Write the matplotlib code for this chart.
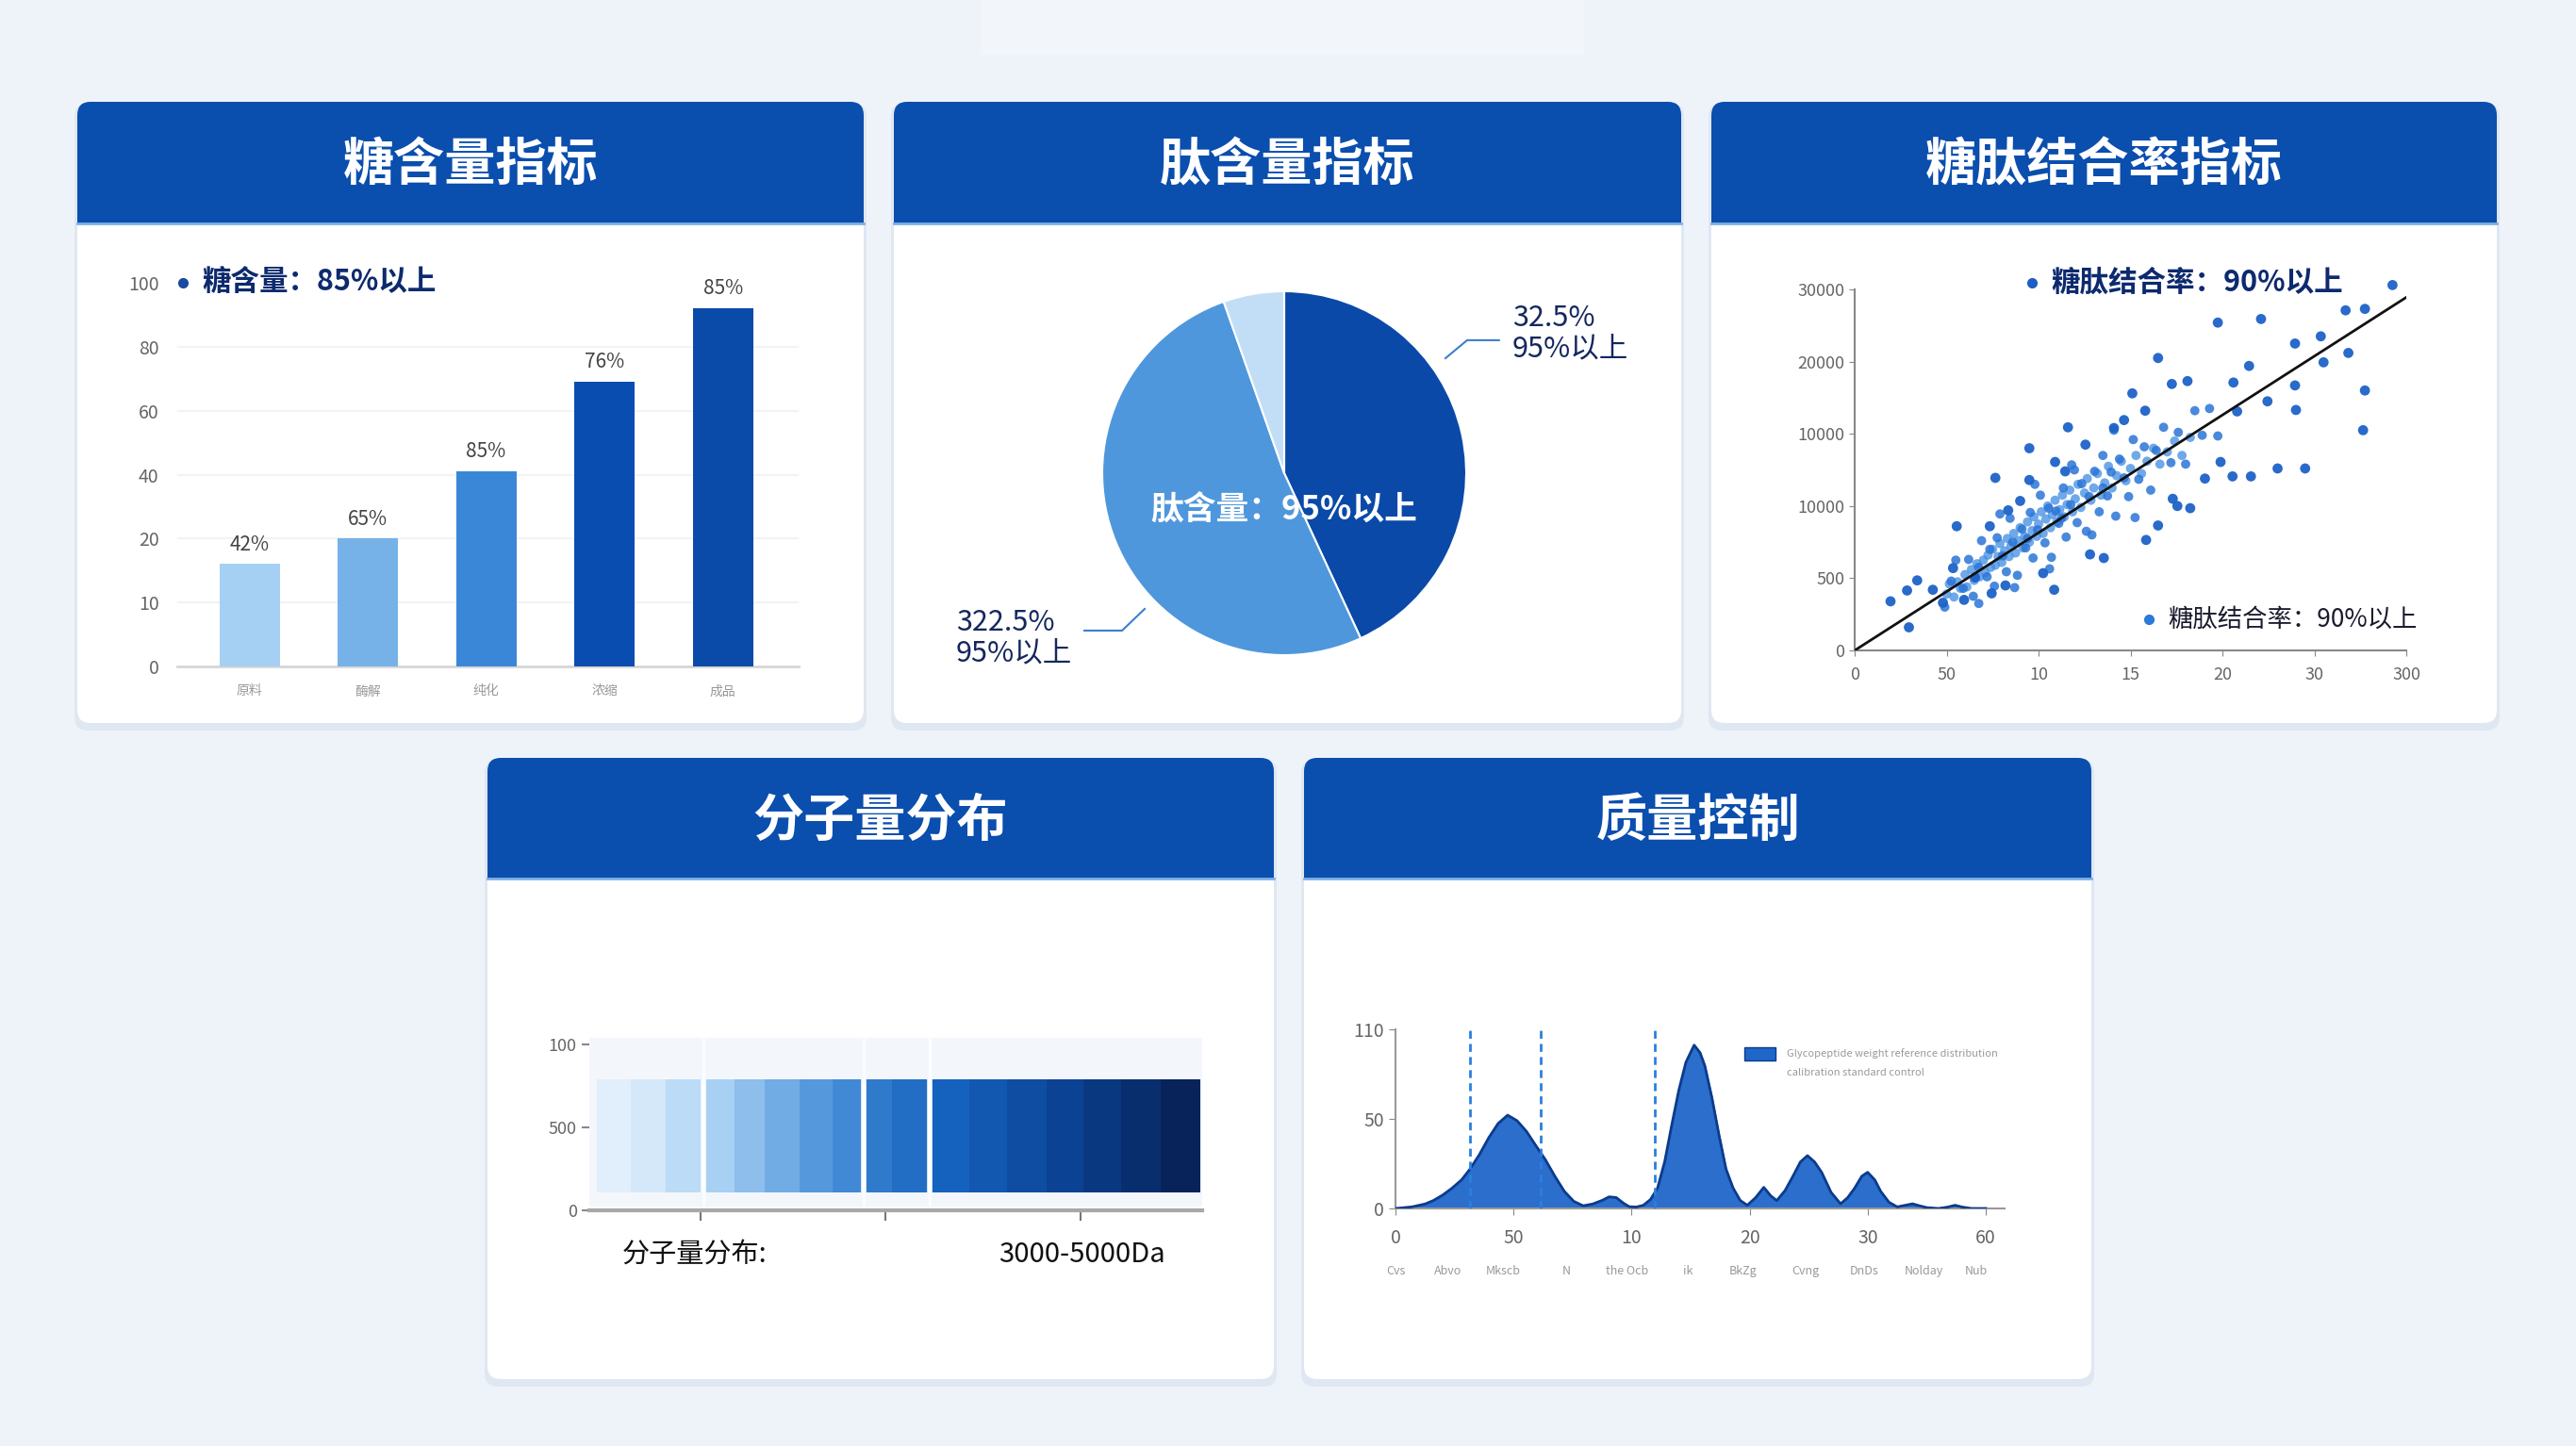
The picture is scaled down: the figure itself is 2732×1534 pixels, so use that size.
import numpy as np
import matplotlib
matplotlib.use("Agg")
import matplotlib.pyplot as plt
from matplotlib.patches import FancyBboxPatch, Rectangle
from matplotlib.colors import LinearSegmentedColormap
from matplotlib.transforms import blended_transform_factory

plt.rcParams['font.family'] = ['Noto Sans CJK SC', 'DejaVu Sans']

W, H = 2732, 1534

# ---- data: 糖含量指标 ----
sugar_cats = ['原料', '酶解', '纯化', '浓缩', '成品']
sugar_vals = [16, 20, 41, 69, 92]
sugar_text = ['42%', '65%', '85%', '76%', '85%']
sugar_ticks = [0, 10, 20, 40, 60, 80, 100]

# ---- data: 肽含量指标 ----
pep_vals = [43.1, 51.5, 5.4]

# ---- data: 糖肽结合率 ----
sc_xlabels = ['0', '50', '10', '15', '20', '30', '300']
sc_ylabels = ['0', '500', '10000', '10000', '20000', '30000']
big_x = [0.39, 0.57, 0.68, 0.59, 0.85, 0.96, 1.11, 1.07, 1.19, 1.31, 1.47, 1.49, 1.53, 1.64, 1.67,
         1.80, 1.90, 1.90, 2.05, 2.17, 2.18, 2.32, 2.29, 2.51, 2.56, 2.71, 2.82, 2.93, 3.02, 3.16,
         3.17, 3.30, 3.30, 3.45, 3.62, 3.46, 3.51, 3.65, 3.81, 3.95, 4.12, 4.11, 4.29, 4.31, 4.42,
         4.49, 4.60, 4.79, 4.79, 4.80, 4.90, 5.07, 5.10, 5.37, 5.53, 5.55, 5.85, 5.34, 5.55, 4.16, 3.98]
big_y = [0.68, 0.83, 0.97, 0.32, 0.84, 0.66, 1.72, 1.14, 0.70, 1.01, 1.72, 0.79, 2.39, 0.90, 1.94,
         2.07, 2.80, 2.36, 1.07, 0.84, 2.61, 3.09, 2.48, 2.85, 1.33, 1.28, 3.08, 3.19, 3.56, 3.32,
         1.53, 1.73, 4.05, 3.69, 3.73, 2.10, 2.00, 1.97, 2.38, 4.54, 3.71, 2.41, 3.94, 2.41, 4.59,
         3.45, 2.52, 4.25, 3.67, 3.33, 2.52, 4.35, 3.99, 4.12, 3.05, 3.60, 5.06, 4.71, 4.73, 3.31, 2.61]
cloud_x = [1.00, 1.03, 1.08, 1.12, 1.15, 1.20, 1.22, 1.27, 1.30, 1.33, 1.36, 1.40, 1.42, 1.45, 1.48,
           1.50, 1.53, 1.56, 1.58, 1.60, 1.63, 1.66, 1.68, 1.70, 1.73, 1.75, 1.78, 1.80, 1.83, 1.85,
           1.88, 1.90, 1.93, 1.95, 1.98, 2.00, 2.03, 2.05, 2.08, 2.10, 2.13, 2.15, 2.18, 2.20, 2.23,
           2.26, 2.28, 2.31, 2.34, 2.37, 2.40, 2.43, 2.46, 2.50, 2.53, 2.57, 2.60, 2.64, 2.68, 2.72,
           2.76, 2.80, 2.85, 2.90, 2.95, 3.00, 3.06, 3.12, 3.18, 3.25, 3.32, 3.40, 3.48, 3.56, 3.65]
cloud_y = [0.78, 0.92, 0.74, 0.95, 0.86, 1.05, 0.88, 1.12, 0.97, 1.20, 1.02, 1.25, 1.08, 1.32, 1.15,
           1.40, 1.18, 1.30, 1.48, 1.22, 1.38, 1.55, 1.30, 1.45, 1.62, 1.35, 1.52, 1.70, 1.42, 1.58,
           1.78, 1.50, 1.66, 1.85, 1.58, 1.75, 1.92, 1.62, 1.82, 2.00, 1.70, 1.88, 2.08, 1.78, 1.95,
           2.15, 1.85, 2.02, 2.22, 1.92, 2.10, 2.30, 1.98, 2.18, 2.38, 2.08, 2.25, 2.45, 2.15, 2.32,
           2.55, 2.25, 2.42, 2.62, 2.35, 2.52, 2.70, 2.45, 2.62, 2.80, 2.58, 2.75, 2.90, 2.70, 2.95]
spread_x = [0.98, 1.05, 1.10, 1.18, 1.24, 1.29, 1.35, 1.38, 1.44, 1.47, 1.52, 1.55, 1.61, 1.65,
            1.69, 1.72, 1.77, 1.82, 1.86, 1.91, 1.94, 1.99, 2.02, 2.07, 2.11, 2.14, 2.19, 2.22,
            2.27, 2.30, 2.35, 2.39, 2.42, 2.47, 2.52, 2.55, 2.61, 2.66, 2.70, 2.75, 2.79, 2.84,
            2.88, 2.93, 2.98, 3.03, 3.09, 3.15, 3.22, 3.28, 3.36, 3.44, 3.52, 3.60, 3.70, 3.78,
            3.86, 3.95, 1.58, 1.74, 1.96, 2.12, 2.36, 2.58, 2.82, 3.05, 1.35, 1.88, 2.25, 2.70]
spread_y = [0.60, 0.96, 1.25, 0.86, 1.26, 0.75, 1.15, 1.52, 1.02, 1.40, 0.89, 1.56, 1.31, 1.09,
            1.83, 1.50, 1.04, 1.68, 1.42, 1.91, 1.28, 1.67, 2.15, 1.49, 1.97, 1.29, 1.93, 1.76,
            2.25, 1.57, 2.02, 2.50, 1.77, 2.31, 1.65, 2.13, 2.48, 1.92, 2.70, 2.14, 2.47, 1.86,
            2.65, 2.39, 2.13, 2.92, 2.37, 2.82, 2.22, 2.77, 3.09, 2.60, 3.02, 2.58, 3.32, 2.98,
            3.35, 2.97, 1.89, 0.87, 2.30, 1.13, 2.57, 1.60, 3.05, 1.84, 0.65, 1.55, 1.83, 2.25]
fit_x = [0, 6]
fit_y = [0, 4.89]

# ---- data: 分子量分布 ----
mw_edges = [0, 5.7, 11.4, 17.3, 22.8, 27.9, 33.6, 39.1, 44.2, 48.9, 55.1, 61.8, 68.0, 74.5, 80.7,
            86.8, 93.4, 100]
mw_level = [0.02, 0.06, 0.14, 0.20, 0.26, 0.32, 0.38, 0.44, 0.50, 0.55, 0.60, 0.66, 0.72, 0.78,
            0.85, 0.92, 1.0]
mw_breaks = [17.7, 44.2, 55.1]
mw_ticks = [17.3, 47.8, 80.2]
mw_ylabels = ['0', '500', '100']

# ---- data: 质量控制 ----
qc_x = [0, 0.14, 0.25, 0.32, 0.40, 0.48, 0.56, 0.63, 0.71, 0.79,
        0.87, 0.95, 1.03, 1.11, 1.19, 1.27, 1.35, 1.43, 1.51, 1.59,
        1.67, 1.75, 1.81, 1.87, 1.93, 1.98, 2.04, 2.10, 2.16, 2.22,
        2.28, 2.34, 2.40, 2.46, 2.53, 2.58, 2.62, 2.68, 2.74, 2.80,
        2.86, 2.92, 2.98, 3.05, 3.12, 3.18, 3.23, 3.30, 3.37, 3.43,
        3.49, 3.55, 3.61, 3.69, 3.77, 3.83, 3.89, 3.95, 4.00, 4.06,
        4.11, 4.18, 4.25, 4.32, 4.38, 4.44, 4.50, 4.60, 4.68, 4.74,
        4.80, 4.88, 5.0]
qc_y = [0, 0.9, 2.5, 4.4, 7.5, 11.4, 16, 21.9, 30, 39.5,
        47.5, 52.1, 49, 43, 35, 27.2, 18, 9.6, 4, 1.5,
        2.5, 4.5, 6.5, 6.1, 3, 1, 0.8, 1.8, 5, 11.4,
        26, 46.5, 66, 81.6, 91.2, 87, 79.8, 62, 41.2, 22,
        11.4, 4.5, 1.8, 6, 11.8, 7, 4.4, 10, 18.4, 26,
        29.5, 26, 20.2, 9, 2.6, 6, 11.4, 18, 20.2, 16,
        9.6, 3.5, 0.9, 1.8, 2.6, 1.5, 0.5, 0, 0.8, 1.8,
        0.8, 0, 0]
qc_marks = [0.63, 1.23, 2.20]
qc_xlabels = ['0', '50', '10', '20', '30', '60']
qc_ylabels = ['0', '50', '110']
qc_cats = ['Cvs', 'Abvo', 'Mkscb', 'N', 'the Ocb', 'ik', 'BkZg', 'Cvng', 'DnDs', 'Nolday', 'Nub']
qc_cat_pos = [0, 0.44, 0.91, 1.45, 1.96, 2.48, 2.94, 3.47, 3.97, 4.48, 4.92]

BLUE = '#0a4eae'
NAVY = '#0d2a6e'
GREY = '#666666'

fig = plt.figure(figsize=(W / 100, H / 100), dpi=100)
fig.patch.set_facecolor('#eef3f9')
bg = fig.add_axes([0, 0, 1, 1], zorder=0)
bg.set_xlim(0, W)
bg.set_ylim(H, 0)
bg.axis('off')
bg.set_facecolor('#eef3f9')
bg.add_patch(Rectangle((1040, 0), 640, 58, fc='#f2f6fb', ec='none', zorder=0))


def panel(x0, y0, x1, y1, hb, title):
    r = 14
    box = "round,pad=0,rounding_size=%d" % r
    bg.add_patch(FancyBboxPatch((x0 - 3, y0 + 2), x1 - x0 + 6, y1 - y0 + 6, boxstyle=box,
                                fc='#d5e0ee', ec='none', alpha=0.6, zorder=1))
    bg.add_patch(FancyBboxPatch((x0, y0), x1 - x0, y1 - y0, boxstyle=box,
                                fc='white', ec='none', zorder=2))
    bg.add_patch(FancyBboxPatch((x0, y0), x1 - x0, hb - y0, boxstyle=box,
                                fc=BLUE, ec='none', zorder=3))
    bg.add_patch(Rectangle((x0, hb - 2 * r), x1 - x0, 2 * r, fc=BLUE, ec='none', zorder=3))
    bg.plot([x0, x1], [hb, hb], color='#7fb0e8', lw=2, zorder=4)
    bg.text((x0 + x1) / 2, (y0 + hb) / 2 + 3, title, color='white', fontsize=39,
            fontweight='bold', ha='center', va='center', zorder=5)


def add_ax(x0, y0, x1, y1):
    a = fig.add_axes([x0 / W, 1 - y1 / H, (x1 - x0) / W, (y1 - y0) / H], zorder=2)
    a.set_facecolor('none')
    return a


def bullet(x, y, s, dot_color, size, **kw):
    bg.plot([x], [y], marker='o', markersize=7, color=dot_color, zorder=5)
    bg.text(x + 20, y, s, fontsize=size, ha='left', va='center', zorder=5, **kw)


panel(82, 108, 916, 767, 237, '糖含量指标')
panel(948, 108, 1783, 767, 237, '肽含量指标')
panel(1815, 108, 2648, 767, 237, '糖肽结合率指标')
panel(517, 804, 1351, 1463, 932, '分子量分布')
panel(1383, 804, 2218, 1463, 932, '质量控制')

# ---------- 糖含量指标 bar chart ----------
ax = add_ax(188, 300, 847, 707)
pos = np.arange(len(sugar_ticks))
ax.set_yscale('function', functions=(lambda v: np.interp(v, sugar_ticks, pos),
                                     lambda p: np.interp(p, pos, sugar_ticks)))
bar_colors = ['#a5d0f4', '#76b2e8', '#3a87d8', '#0a4db0', '#0a4aa8']
xb = np.arange(len(sugar_vals))
ax.bar(xb, sugar_vals, width=0.51, color=bar_colors, zorder=3)
for xi, v, t in zip(xb, sugar_vals, sugar_text):
    ax.annotate(t, (xi, v), xytext=(0, 7), textcoords='offset points', ha='center',
                va='bottom', fontsize=15, color='#444444')
ax.set_ylim(0, 100)
ax.set_xlim(-0.61, 4.64)
ax.set_yticks(sugar_ticks)
ax.set_yticklabels([str(t) for t in sugar_ticks])
ax.set_xticks(xb)
ax.set_xticklabels(sugar_cats, fontsize=10, color='#999999')
ax.tick_params(axis='y', length=0, pad=14, labelsize=14, labelcolor=GREY)
ax.tick_params(axis='x', length=0, pad=14)
for gv in sugar_ticks[1:-1]:
    ax.axhline(gv, color='#f1f3f6', lw=1.5, zorder=1)
for s in ['left', 'right', 'top']:
    ax.spines[s].set_visible(False)
ax.spines['bottom'].set_color('#d6d6d6')
ax.spines['bottom'].set_linewidth(2)
bullet(194, 300, '糖含量：85%以上', '#1a4aa0', 22, fontweight='bold', color=NAVY)

# ---------- 肽含量指标 pie ----------
ax = add_ax(1362 - 193, 502 - 193, 1362 + 193, 502 + 193)
ax.pie(pep_vals, startangle=90, counterclock=False,
       colors=['#0a49a8', '#4f97dc', '#c2def6'],
       wedgeprops=dict(edgecolor='white', linewidth=1.5))
ax.set_xlim(-1, 1)
ax.set_ylim(-1, 1)
ax.set_aspect('equal')
ax.text(0, -0.2, '肽含量：95%以上', color='white', fontsize=25, fontweight='bold',
        ha='center', va='center')
ax.plot([0.886, 1.005, 1.18], [0.632, 0.731, 0.731], color='#3a7fd0', lw=1.5, clip_on=False)
ax.text(1.254, 0.77, '32.5%\n95%以上', color='#14285e', fontsize=22, ha='left',
        va='center', linespacing=1.05)
ax.plot([-0.767, -0.891, -1.098], [-0.746, -0.865, -0.865], color='#3a7fd0', lw=1.5,
        clip_on=False)
ax.text(-1.803, -0.905, '322.5%\n95%以上', color='#14285e', fontsize=22, ha='left',
        va='center', linespacing=1.05)

# ---------- 糖肽结合率 scatter ----------
ax = add_ax(1967, 307, 2552, 690)
ax.scatter(cloud_x, cloud_y, s=50, color='#3f8ce2', alpha=0.75, edgecolors='none',
           zorder=2, clip_on=False)
ax.scatter(spread_x, spread_y, s=50, color='#2a74d6', alpha=0.85, edgecolors='none',
           zorder=2, clip_on=False)
ax.scatter(big_x, big_y, s=60, color='#1d62c8', alpha=0.95, edgecolors='none', zorder=3,
           clip_on=False)
ax.plot(fit_x, fit_y, color='#111111', lw=2, zorder=4)
ax.set_xlim(0, 6)
ax.set_ylim(0, 5)
ax.set_xticks(range(len(sc_xlabels)))
ax.set_xticklabels(sc_xlabels)
ax.set_yticks(range(len(sc_ylabels)))
ax.set_yticklabels(sc_ylabels)
ax.tick_params(labelsize=13, labelcolor=GREY, color='#888888', length=4)
ax.tick_params(axis='x', pad=8)
for s in ['right', 'top']:
    ax.spines[s].set_visible(False)
for s in ['left', 'bottom']:
    ax.spines[s].set_color('#888888')
    ax.spines[s].set_linewidth(1.5)
bullet(2155, 300, '糖肽结合率：90%以上', '#1d5fc4', 22, fontweight='bold', color=NAVY)
bullet(2279, 657, '糖肽结合率：90%以上', '#2a7ad8', 19, color='#1a1a2e')

# ---------- 分子量分布 strip ----------
ax = add_ax(625, 1099, 1275, 1284)
cmap = LinearSegmentedColormap.from_list('mw', ['#e6f2fc', '#a8d0f3', '#4c93da', '#1562be',
                                                '#0a3f8e', '#08235a'])
ax.axhspan(0.06, 2.08, color='#f3f7fc', zorder=0)
for i, lv in enumerate(mw_level):
    ax.bar(mw_edges[i], 1.36, width=mw_edges[i + 1] - mw_edges[i], bottom=0.22, align='edge',
           color=cmap(lv), edgecolor='none', zorder=2)
ax.vlines(mw_breaks, 0.22, 1.58, color='white', lw=4, zorder=3)
ax.vlines(mw_breaks, 0.06, 2.08, color='white', lw=2, alpha=0.8, zorder=1)
ax.set_xlim(-1.2, 100.3)
ax.set_ylim(0, 2.1)
ax.set_yticks([0, 1, 2])
ax.set_yticklabels(mw_ylabels)
ax.set_xticks(mw_ticks)
ax.set_xticklabels([])
ax.tick_params(axis='y', labelsize=13, labelcolor=GREY, color='#888888', length=6, width=1.5)
ax.tick_params(axis='x', color='#777777', length=8, width=1.5)
for s in ['left', 'right', 'top']:
    ax.spines[s].set_visible(False)
ax.spines['bottom'].set_color('#a8a8a8')
ax.spines['bottom'].set_linewidth(3)
bg.text(737, 1331, '分子量分布:', fontsize=21, color='#111111', ha='center', va='center', zorder=5)
bg.text(1148, 1331, '3000-5000Da', fontsize=21, color='#111111', ha='center', va='center',
        zorder=5)

# ---------- 质量控制 area ----------
ax = add_ax(1480, 1092, 2126, 1282)
ax.fill_between(qc_x, qc_y, color='#1f66c9', alpha=0.95, zorder=2)
ax.plot(qc_x, qc_y, color='#0c3b8c', lw=2, zorder=3)
ax.vlines(qc_marks, 0, 100, color='#2a7fe0', linestyles=(0, (3, 2)), lw=2, zorder=4)
ax.set_xlim(0, 5.16)
ax.set_ylim(0, 100)
ax.set_xticks(range(len(qc_xlabels)))
ax.set_xticklabels(qc_xlabels)
ax.set_yticks([0, 50, 100])
ax.set_yticklabels(qc_ylabels)
ax.tick_params(labelsize=14, labelcolor=GREY, color='#888888', length=5)
ax.tick_params(axis='x', pad=10)
for s in ['right', 'top']:
    ax.spines[s].set_visible(False)
for s in ['left', 'bottom']:
    ax.spines[s].set_color('#999999')
    ax.spines[s].set_linewidth(1.5)
tr = blended_transform_factory(ax.transData, ax.transAxes)
for p, c in zip(qc_cat_pos, qc_cats):
    ax.text(p, -0.35, c, transform=tr, fontsize=9, color='#999999', ha='center', va='center')
bg.add_patch(Rectangle((1850, 1111), 33, 14, fc='#1f66c9', ec='#0c3b8c', zorder=5))
bg.text(1895, 1118, 'Glycopeptide weight reference distribution', fontsize=8,
        color='#999999', ha='left', va='center', zorder=5)
bg.text(1895, 1138, 'calibration standard control', fontsize=8,
        color='#999999', ha='left', va='center', zorder=5)

fig.savefig('out.png', dpi=100, facecolor=fig.get_facecolor())
